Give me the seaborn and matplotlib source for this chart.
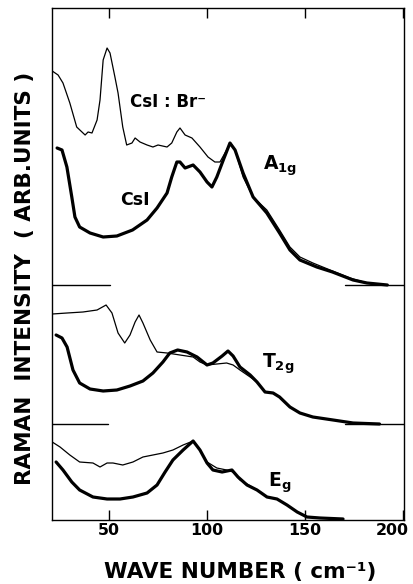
import numpy as np
import pandas as pd
import matplotlib
matplotlib.use("Agg")
import matplotlib.pyplot as plt
import seaborn as sns
from matplotlib.transforms import ScaledTranslation

# ---------------- data ----------------
# A1g panel: CsI:Br- (thin) and CsI (thick)
a1g_br_x = [21, 24, 26.5, 30, 33.5, 37.8, 39.3, 41.3, 43.9, 45.4, 47, 49, 50.5, 53, 54.6, 57, 59,
            61.7, 63.3, 65.8, 69.4, 72.4, 75, 79.6, 82, 84.6, 86.2, 88.8, 92.3, 96.4, 100.5, 104,
            106.6, 110, 112, 114.3, 118.4, 123.5, 130.5, 137, 142.3, 147.4, 154, 162.8, 173, 181.6, 190]
a1g_br_y = [214, 210, 202, 182, 158, 150, 153, 152, 165, 185, 225, 237, 232, 208, 192, 158, 140,
            142, 147, 143, 140, 138, 140, 138, 142, 153, 157, 150, 147, 138, 128, 123,
            123, 135, 142, 135, 108, 88, 75, 55, 38, 28, 22, 15, 7, 2, 0]
a1g_csi_x = [23.5, 26, 28.5, 31, 32.6, 35, 40.3, 47, 54, 62, 69.4, 74.5, 79.6, 82, 84.6, 86.2,
             88.8, 92.9, 96.4, 100, 102.5, 105, 108.3, 111.7, 114.3, 118.4, 123.5, 130.5, 137,
             142.3, 147.4, 156, 164, 174.5, 181.6, 192]
a1g_csi_y = [137, 135, 118, 88, 68, 58, 52, 48, 49, 55, 65, 77, 92, 108, 123, 123,
             117, 120, 113, 103, 98, 108, 125, 142, 135, 112, 88, 72, 52,
             35, 25, 18, 13, 5, 2, 0]

# T2g panel
t2g_br_x = [21, 28.6, 36.7, 43.9, 48.5, 51.5, 54.6, 58, 60.7, 63.3, 65.3, 67.3, 71, 74.5, 79.6,
            86.2, 92.9, 96.4, 100, 105, 110, 113.3, 116.8, 122, 125.5, 129.6, 133.7, 137, 142.3,
            147.4, 154, 164.3, 174.5, 188]
t2g_br_y = [110, 111, 112, 114, 119, 111, 91, 81, 89, 102, 109, 101, 84, 72, 71,
            69, 67, 62, 59, 60, 61, 59, 54, 47, 42, 32, 31, 27, 17,
            11, 7, 4, 1, 0]
t2g_csi_x = [23, 26, 28.6, 31.6, 35, 40.3, 47, 54, 60.7, 67.3, 72.4, 77.5, 81, 85, 89.8, 94.9,
             100, 103, 107.7, 110.7, 113.3, 116.8, 122, 125.5, 129.6, 133.7, 137, 142.3, 147.4,
             154, 164.3, 174.5, 188]
t2g_csi_y = [89, 86, 77, 54, 41, 35, 33, 34, 38, 43, 51, 62, 71, 74, 72, 67,
             59, 61, 68, 73, 68, 57, 49, 42, 32, 31, 27, 17, 11,
             7, 4, 1, 0]

# Eg panel
eg_br_x = [21, 25, 30, 35, 41.8, 45.4, 49, 52, 57, 62.2, 67.3, 72.4, 77.5, 82.6, 87.8, 92.9,
           96.4, 100, 105, 110, 113.3, 116.8, 120.4, 125.5, 130.6, 135.7, 140.8, 146, 151,
           157.7, 169.4]
eg_br_y = [78, 73, 65, 58, 57, 53, 57, 57, 55, 58, 63, 65, 67, 70, 75, 79,
           70, 58, 52, 50, 48, 40, 36, 30, 23, 21, 15, 8, 3,
           2, 1]
eg_csi_x = [23, 26.5, 31, 35, 41.8, 49, 55.6, 62.2, 69.4, 74.5, 78.6, 82.6, 87.8, 92.9, 96.4,
            100, 103, 107.7, 112.7, 115.8, 120.4, 125.5, 130.6, 135.7, 140.8, 146, 151, 157.7, 169.4]
eg_csi_y = [58, 50, 38, 30, 23, 21, 21, 23, 27, 35, 48, 60, 70, 79, 70,
            57, 50, 48, 50, 43, 35, 30, 23, 21, 15, 8, 3, 2, 1]

x_ticks = [50, 100, 150, 200]
x_tick_labels = ["50", "100", "150", "200"]

# ---------------- figure ----------------
sns.set_theme(style="white")
plt.rcParams['font.family'] = ['DejaVu Sans']
plt.rcParams['text.color'] = 'black'
plt.rcParams['axes.labelcolor'] = 'black'
plt.rcParams['xtick.color'] = 'black'
plt.rcParams['axes.edgecolor'] = 'black'

W, H = 413, 584
fig = plt.figure(figsize=(W / 100, H / 100), dpi=100)
fig.patch.set_facecolor("white")
ax = fig.add_axes([52 / W, 1 - 520 / H, (404 - 52) / W, 512 / H])
ax.set_facecolor("white")

offsets = {"A1g": 235, "T2g": 96, "Eg": 0}
curves = [
    ("A1g", a1g_br_x, a1g_br_y, 0.9),
    ("A1g", a1g_csi_x, a1g_csi_y, 2.3),
    ("T2g", t2g_br_x, t2g_br_y, 0.9),
    ("T2g", t2g_csi_x, t2g_csi_y, 2.3),
    ("Eg", eg_br_x, eg_br_y, 0.9),
    ("Eg", eg_csi_x, eg_csi_y, 2.3),
]
for panel, xs, ys, lw in curves:
    df = pd.DataFrame({"wn": xs, "I": np.asarray(ys, float) + offsets[panel]})
    sns.lineplot(data=df, x="wn", y="I", ax=ax, color="black", linewidth=lw,
                 estimator=None, sort=False, legend=False)

# partial separators between panels
for yb, xl in [(235, 50.5), (96, 49.5)]:
    ax.plot([20.9, xl], [yb, yb], color="black", lw=1.0)
    ax.plot([170.4, 200.5], [yb, yb], color="black", lw=1.0)

ax.set_xlim(20.9, 200.5)
ax.set_ylim(0, 512)
ax.set_yticks([])
ax.set_xticks(x_ticks)
ax.set_xticklabels(x_tick_labels, fontweight="bold")
ax.tick_params(axis="x", direction="in", top=True, bottom=True, length=7, width=1,
               color="black", labelcolor="black", labelsize=11.4, pad=2.5)
for s in ax.spines.values():
    s.set_visible(True)
    s.set_color("black")
    s.set_linewidth(1.0)
ax.set_xlabel("")
ax.set_ylabel("")

# shift the "200" label to the left so it stays in the picture
lab = ax.get_xticklabels()[-1]
lab.set_transform(lab.get_transform() + ScaledTranslation(-0.11, 0, fig.dpi_scale_trans))

# annotations
ax.text(60.7, 413, "CsI : Br⁻", fontsize=12, fontweight="bold", ha="left", va="baseline", color="black")
ax.text(55.6, 315, "CsI", fontsize=12.5, fontweight="bold", ha="left", va="baseline", color="black")
ax.text(128.6, 350, r"A$_{\mathregular{1g}}$", fontsize=13.5, fontweight="bold", ha="left", va="baseline", color="black")
ax.text(128.0, 152, r"T$_{\mathregular{2g}}$", fontsize=13.5, fontweight="bold", ha="left", va="baseline", color="black")
ax.text(131.0, 33, r"E$_{\mathregular{g}}$", fontsize=13.5, fontweight="bold", ha="left", va="baseline", color="black")

fig.text(240 / W, 1 - 578 / H, "WAVE NUMBER ( cm⁻¹)", ha="center", va="baseline",
         fontsize=15.5, fontweight="bold", color="black")
fig.text(25 / W, 1 - 278 / H, "RAMAN  INTENSITY  ( ARB.UNITS )", ha="center", va="center",
         rotation=90, fontsize=15.5, fontweight="bold", color="black")

fig.savefig("out.png", dpi=100, facecolor="white")
